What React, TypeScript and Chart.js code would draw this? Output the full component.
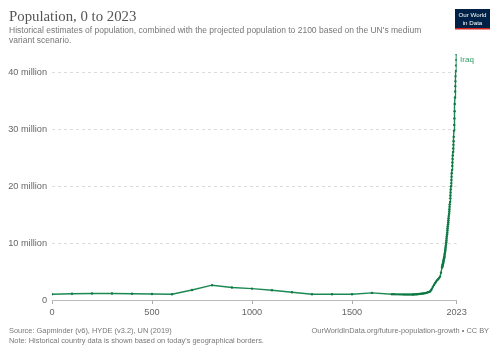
import React, { useEffect, useRef } from "react";
import { Chart, registerables } from "chart.js";

Chart.register(...registerables);

const title = "Population, 0 to 2023";
const subtitleLines = [
  "Historical estimates of population, combined with the projected population to 2100 based on the UN's medium",
  "variant scenario.",
];
const sourceText = "Source: Gapminder (v6), HYDE (v3.2), UN (2019)";
const noteText = "Note: Historical country data is shown based on today's geographical borders.";
const urlText = "OurWorldInData.org/future-population-growth • CC BY";
const seriesName = "Iraq";

const xTicks = [0, 500, 1000, 1500, 2023];
const yTicks = [0, 10e6, 20e6, 30e6, 40e6];

// years and population (millions)
const years = [
  0, 100, 200, 300, 400, 500, 600, 700, 800, 900, 1000, 1100, 1200, 1300, 1400, 1500, 1600, 1700,
  1710, 1720, 1730, 1740, 1750, 1760, 1770, 1780, 1790, 1800,
  1805, 1810, 1815, 1820, 1825, 1830, 1835, 1840, 1845, 1850, 1855, 1860, 1865, 1870, 1875, 1880,
  1885, 1890, 1895, 1900, 1905, 1910, 1915, 1920, 1925, 1930, 1935, 1940, 1945,
  1950, 1951, 1952, 1953, 1954, 1955, 1956, 1957, 1958, 1959, 1960,
  1961, 1962, 1963, 1964, 1965, 1966, 1967, 1968, 1969, 1970,
  1971, 1972, 1973, 1974, 1975, 1976, 1977, 1978, 1979, 1980,
  1981, 1982, 1983, 1984, 1985, 1986, 1987, 1988, 1989, 1990,
  1991, 1992, 1993, 1994, 1995, 1996, 1997, 1998, 1999, 2000,
  2001, 2002, 2003, 2004, 2005, 2006, 2007, 2008, 2009, 2010,
  2011, 2012, 2013, 2014, 2015, 2016, 2017, 2018, 2019, 2020,
  2021, 2022, 2023,
];
const populationMillions = [
  1.0, 1.1, 1.15, 1.15, 1.1, 1.05, 1.0, 1.75, 2.6, 2.2, 2.0, 1.7, 1.35, 1.0, 1.0, 1.0, 1.25, 1.0,
  1.0, 0.99, 0.99, 0.98, 0.98, 0.97, 0.97, 0.96, 0.96, 0.96,
  0.97, 0.98, 0.99, 1.0, 1.02, 1.04, 1.06, 1.08, 1.1, 1.12, 1.14, 1.17, 1.2, 1.25, 1.3, 1.36,
  1.42, 1.5, 1.7, 2.0, 2.35, 2.65, 2.95, 3.2, 3.45, 3.65, 3.85, 4.1, 4.8,
  5.72, 5.85, 5.99, 6.13, 6.28, 6.43, 6.6, 6.77, 6.94, 7.11, 7.29,
  7.49, 7.7, 7.93, 8.17, 8.42, 8.68, 8.95, 9.23, 9.52, 9.82,
  10.13, 10.45, 10.79, 11.14, 11.5, 11.87, 12.24, 12.61, 12.96, 13.3,
  13.65, 14.0, 14.37, 14.75, 15.14, 15.54, 15.95, 16.37, 16.8, 17.23,
  17.85, 18.35, 18.88, 19.42, 19.97, 20.53, 21.09, 21.66, 22.25, 22.85,
  23.55, 24.15, 24.75, 25.37, 26.0, 26.62, 27.25, 27.9, 28.65, 29.74,
  30.75, 31.89, 33.16, 34.41, 35.57, 36.61, 37.55, 38.43, 39.31, 40.22,
  41.18, 42.16, 43.15,
];

const LINE = "#1b8a52";
const FONT = "'Liberation Sans', Arial, Helvetica, sans-serif";

const decorPlugin = {
  id: "decor",
  afterDraw(chart: any) {
    const ctx = chart.ctx as CanvasRenderingContext2D;
    ctx.save();
    // Title
    ctx.fillStyle = "#555";
    ctx.textBaseline = "alphabetic";
    ctx.textAlign = "left";
    ctx.font = "14.8px 'Liberation Serif', 'DejaVu Serif', serif";
    ctx.fillText(title, 9, 20.5);
    // Subtitle
    ctx.fillStyle = "#777";
    ctx.font = `8.5px ${FONT}`;
    ctx.fillText(subtitleLines[0], 9, 33);
    ctx.fillText(subtitleLines[1], 9, 43);
    // Footer
    ctx.font = `7.4px ${FONT}`;
    ctx.fillStyle = "#777";
    ctx.fillText(sourceText, 9, 333);
    ctx.fillText(noteText, 9, 343);
    ctx.textAlign = "right";
    ctx.fillText(urlText, 489, 333);
    // Logo
    ctx.fillStyle = "#002147";
    ctx.fillRect(455, 9, 35, 19);
    ctx.fillStyle = "#ce261e";
    ctx.fillRect(455, 28, 35, 1.5);
    ctx.fillStyle = "#fff";
    ctx.textAlign = "center";
    ctx.font = `6.2px ${FONT}`;
    ctx.fillText("Our World", 472.5, 17);
    ctx.fillText("in Data", 472.5, 24.5);
    // Series label
    const meta = chart.getDatasetMeta(0);
    const last = meta.data[meta.data.length - 1];
    if (last) {
      ctx.textAlign = "left";
      ctx.fillStyle = "#2e9b62";
      ctx.font = `8px ${FONT}`;
      ctx.fillText(seriesName, last.x + 3.5, last.y + 8);
    }
    ctx.restore();
  },
};

export default function App() {
  const ref = useRef<HTMLCanvasElement | null>(null);
  useEffect(() => {
    if (!ref.current) return;
    const data = years.map((y, i) => ({ x: y, y: populationMillions[i] * 1e6 }));
    const chart = new Chart(ref.current, {
      type: "line",
      data: {
        datasets: [
          {
            label: seriesName,
            data,
            borderColor: LINE,
            borderWidth: 1.4,
            pointRadius: 1.2,
            pointBorderWidth: 0,
            pointBackgroundColor: "#0f7a45",
            tension: 0,
          },
        ],
      },
      options: {
        responsive: false,
        animation: false,
        parsing: false as any,
        layout: { padding: { left: 0, top: 54, right: 43.4, bottom: 33 } },
        plugins: { legend: { display: false }, tooltip: { enabled: false }, title: { display: false } },
        scales: {
          x: {
            type: "linear",
            min: 0,
            max: 2023,
            afterBuildTicks: (s: any) => {
              s.ticks = xTicks.map((v) => ({ value: v }));
            },
            afterFit: (s: any) => {
              s.height = 20;
            },
            grid: { drawOnChartArea: false, drawTicks: true, tickLength: 4, color: "#aaa" },
            border: { display: true, color: "#bbb" },
            ticks: {
              color: "#666",
              font: { family: FONT, size: 9.2 },
              padding: 3,
              maxRotation: 0,
              autoSkip: false,
              callback: (v: any) => String(v),
            },
          },
          y: {
            type: "linear",
            min: 0,
            max: 43.2e6,
            afterBuildTicks: (s: any) => {
              s.ticks = yTicks.map((v) => ({ value: v }));
            },
            afterFit: (s: any) => {
              s.width = 52;
            },
            grid: { drawTicks: false, color: "#dcdcdc" },
            border: { display: false, dash: [3, 3] },
            ticks: {
              color: "#666",
              font: { family: FONT, size: 9.2 },
              padding: 5,
              callback: (v: any) => (v === 0 ? "0" : `${v / 1e6} million`),
            },
          },
        },
      },
      plugins: [decorPlugin],
    });
    return () => chart.destroy();
  }, []);
  return (
    <div style={{ position: "absolute", left: 0, top: 0, width: 500, height: 353, background: "#fff" }}>
      <canvas ref={ref} width={500} height={353} style={{ width: 500, height: 353, display: "block" }} />
    </div>
  );
}
